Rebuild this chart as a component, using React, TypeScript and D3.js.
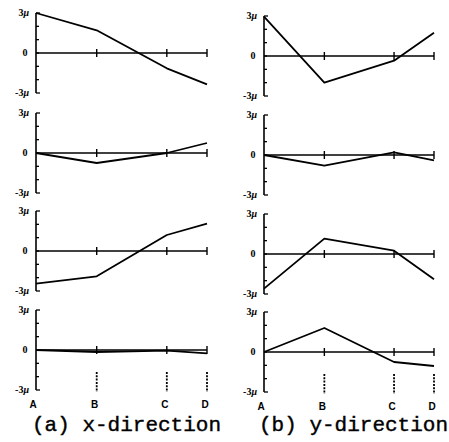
import React from "react";
import * as d3 from "d3";

// measuring points along the member (relative distance A..D)
const stations = ["A", "B", "C", "D"];
const stationPos = [0, 0.355, 0.765, 1];

// displacement in micro units, four cases per direction
const xDirection = [
  [3.0, 1.7, -1.15, -2.35],
  [0, -0.75, 0, 0.75],
  [-2.45, -1.9, 1.2, 2.05],
  [0, -0.15, -0.05, -0.25],
];
const yDirection = [
  [2.95, -2.0, -0.35, 1.75],
  [0, -0.8, 0.2, -0.4],
  [-2.6, 1.15, 0.25, -1.9],
  [0, 1.8, -0.75, -1.05],
];

const yTicks = [-3, -2, -1, 0, 1, 2, 3];
const captions = ["(a) x-direction", "(b) y-direction"];

const W = 449;
const H = 442;
const panelH = 80;

const columns = [
  { x0: 36, x1: 207, tops: [13, 113, 211, 310], capX: 32, series: xDirection },
  { x0: 264, x1: 434, tops: [16, 115, 214, 312], capX: 259, series: yDirection },
];

const tickFont = "'Liberation Serif', serif";

function Panel({ x0, x1, top, values, last }) {
  const x = d3.scaleLinear().domain([0, 1]).range([x0, x1]);
  const y = d3.scaleLinear().domain([-3, 3]).range([top + panelH, top]);
  const line = d3
    .line<number>()
    .x((d, i) => x(stationPos[i]))
    .y((d) => y(d));

  return (
    <g>
      {/* y axis with inward ticks */}
      <line x1={x0} x2={x0} y1={y(3)} y2={y(-3)} stroke="#000" strokeWidth={1.6} />
      {yTicks.map((t) => (
        <line key={t} x1={x0} x2={x0 + (Math.abs(t) === 3 ? 4 : 3)} y1={y(t)} y2={y(t)} stroke="#000" strokeWidth={1.3} />
      ))}
      <text x={x0 - 7} y={y(3) + 3} textAnchor="end" fontSize={10} fontWeight="bold" fontFamily={tickFont}>
        3<tspan fontStyle="italic">μ</tspan>
      </text>
      <text x={x0 - 11} y={y(0) + 3} textAnchor="middle" fontSize={10} fontWeight="bold" fontFamily={tickFont}>
        0
      </text>
      <text x={x0 - 7} y={y(-3) + 3} textAnchor="end" fontSize={10} fontWeight="bold" fontFamily={tickFont}>
        -3<tspan fontStyle="italic">μ</tspan>
      </text>
      {/* zero line */}
      <line x1={x0} x2={x1} y1={y(0)} y2={y(0)} stroke="#000" strokeWidth={1.6} />
      {stationPos.slice(1).map((p, i) => (
        <line key={i} x1={x(p)} x2={x(p)} y1={y(0) - 4} y2={y(0) + 4} stroke="#000" strokeWidth={1.4} />
      ))}
      {/* response */}
      <path d={line(values) || ""} fill="none" stroke="#000" strokeWidth={1.8} strokeLinejoin="round" />
      {last && (
        <g>
          {stationPos.slice(1).map((p, i) => (
            <line key={i} x1={x(p)} x2={x(p)} y1={y(-3) - 18} y2={y(-3) + 2} stroke="#000" strokeWidth={1.8} strokeDasharray="2,1.3" />
          ))}
          {stations.map((s, i) => (
            <text key={s} x={x(stationPos[i]) - (i === 0 ? 3 : 2)} y={y(-3) + 18} textAnchor="middle" fontSize={10} fontWeight="bold" fontFamily="'Liberation Sans', Arial, sans-serif">
              {s}
            </text>
          ))}
        </g>
      )}
    </g>
  );
}

export default function App() {
  return (
    <svg width={W} height={H} style={{ position: "absolute", left: 0, top: 0, background: "#fff" }}>
      <rect width={W} height={H} fill="#fff" />
      {columns.map((c, ci) => (
        <g key={ci}>
          {c.series.map((vals, pi) => (
            <Panel key={pi} x0={c.x0} x1={c.x1} top={c.tops[pi]} values={vals} last={pi === c.series.length - 1} />
          ))}
          <text x={c.capX} y={431} fontSize={21} fontFamily="'Liberation Mono', 'Courier New', monospace" stroke="#000" strokeWidth={0.4}>
            {captions[ci]}
          </text>
        </g>
      ))}
    </svg>
  );
}
